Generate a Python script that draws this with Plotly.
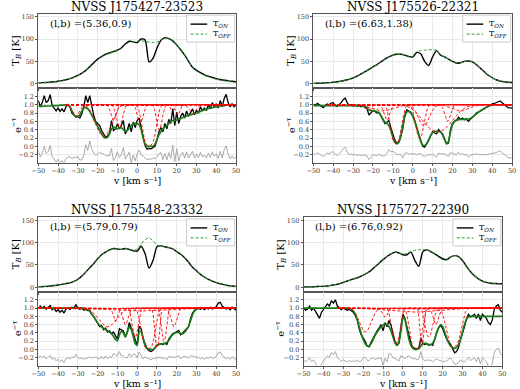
import numpy as np
import plotly.graph_objects as go

W, H = 520, 389

# ---------------- data ----------------
source_names = ["NVSS J175427-23523", "NVSS J175526-22321",
                "NVSS J175548-23332", "NVSS J175727-22390"]
lb_labels = ["(l,b) =(5.36,0.9)", "(l,b) =(6.63,1.38)",
             "(l,b) =(5.79,0.79)", "(l,b) =(6.76,0.92)"]
legend_names = ["T<sub><i>ON</i></sub>", "T<sub><i>OFF</i></sub>"]

v_em = list(range(-50, 51, 2))      # emission velocity grid [km/s]
v_abs = list(range(-50, 51, 1))     # absorption velocity grid [km/s]

ton1 = [2, 2.5, 3, 3.5, 4.5, 5.5, 7, 9, 11.5, 15, 19, 24, 30, 38, 47, 55, 61, 66, 69, 72,
        75, 80, 89, 95, 94, 92, 100, 98, 49, 57, 80, 97, 103, 101, 96, 87, 76, 64, 50, 37,
        30, 25, 20, 17, 14, 11.5, 9.5, 8, 6.5, 5.5, 4.5]
toff1 = [2, 2.5, 3, 3.5, 4.5, 5.5, 7, 9, 11.5, 15, 19, 24, 30, 36, 45, 53, 59, 65, 68, 71,
         74, 79, 88, 93, 94, 95, 96, 95, 93, 92, 93, 97, 102, 101, 96, 87, 76, 64, 50, 37,
         29, 23, 18.5, 15.5, 12.5, 10, 8, 6.5, 5, 4, 3]
ton2 = [1, 1.2, 1.5, 2, 2.5, 3.5, 4.5, 6, 8, 10, 13, 17, 22, 27, 32, 38, 43, 49, 55, 60,
        64, 66, 66, 64, 61, 60, 70, 67, 50, 41, 60, 74, 64, 60, 55, 50, 46, 47, 50, 51,
        49, 43, 35, 27, 19, 13.5, 9, 6, 4.5, 3.5, 3]
toff2 = [1, 1.2, 1.5, 2, 2.5, 3.5, 4.5, 6, 8, 10, 13, 17, 22, 27, 32, 38, 43, 49, 55, 60,
         64, 66, 66, 64, 61, 61, 72, 74, 75, 76, 76, 75, 64, 60, 55, 50, 46, 47, 50, 51,
         49, 43, 35, 27, 19, 13.5, 9, 6, 4.5, 3.5, 3]
ton3 = [1, 1.5, 2, 3, 4, 5, 6.5, 8.5, 10, 13, 18, 25, 34, 44, 53, 64, 73, 79, 84, 87,
        86, 85, 87, 85, 82, 81, 92, 75, 43, 60, 91, 93, 91, 89, 86, 80, 74, 66, 56, 45,
        37, 29, 23, 18, 14, 10.5, 8, 6, 4, 3, 2]
toff3 = [1, 1.5, 2, 3, 4, 5, 6.5, 8.5, 10, 13, 18, 25, 34, 44, 53, 64, 73, 79, 84, 87,
         86, 85, 87, 85, 83, 86, 97, 107, 111, 104, 95, 93, 91, 89, 86, 80, 74, 66, 56, 45,
         37, 29, 23, 18, 14, 10.5, 8, 6, 4, 3, 2]
ton4 = [0.5, 0.8, 1, 1.5, 2, 2, 3, 4.5, 6, 8, 11, 14, 17, 20, 23, 27, 32, 38, 46, 54,
        62, 69, 75, 79, 77, 73, 73, 79, 60, 47, 80, 84, 80, 75, 69, 64, 62, 68, 71, 69,
        60, 47, 35, 26, 19, 14, 11, 9, 8.5, 8, 8]
toff4 = [0.5, 0.8, 1, 1.5, 2, 2, 3, 4.5, 6, 8, 11, 14, 17, 20, 23, 27, 32, 38, 46, 54,
         62, 69, 75, 79, 77, 74, 76, 80, 83, 84, 85, 84, 80, 75, 67, 62, 61, 68, 71, 69,
         60, 47, 35, 26, 19, 14, 11, 9, 8.5, 8, 8]

abs1 = [1.10, 0.95, 1.05, 1.22, 1.05, 1.10, 1.24, 0.98, 0.92, 0.85,
        0.92, 0.84, 0.90, 0.83, 0.95, 1.00, 0.95, 0.80, 0.75, 0.70,
        0.72, 0.68, 0.78, 0.95, 1.22, 1.05, 1.22, 0.94, 0.75, 0.60,
        0.55, 0.50, 0.38, 0.30, 0.22, 0.25, 0.32, 0.62, 0.38, 0.42,
        0.54, 0.42, 0.50, 0.62, 0.30, 0.40, 0.55, 0.35, 0.58, 0.45,
        0.62, 0.68, 0.45, 0.22, 0.02, -0.07, -0.05, -0.06, -0.03, 0.00,
        0.15, 0.35, 0.45, 0.35, 0.55, 0.42, 0.65, 0.55, 0.90, 0.50,
        0.82, 0.55, 0.72, 0.80, 0.68, 0.85, 0.72, 0.82, 0.90, 0.76,
        0.86, 0.80, 0.95, 0.85, 0.92, 0.86, 1.00, 0.90, 1.05, 0.95,
        1.02, 0.92, 1.10, 0.95, 1.15, 1.25, 1.05, 0.95, 1.02, 0.95,
        1.00]
fit1 = [0.96, 0.96, 0.96, 0.97, 0.97, 0.97, 0.97, 0.98, 0.98, 0.98,
        0.98, 0.99, 0.99, 0.99, 1.00, 1.00, 0.95, 0.85, 0.76, 0.72,
        0.72, 0.76, 0.85, 0.92, 0.93, 0.90, 0.84, 0.75, 0.66, 0.57,
        0.48, 0.39, 0.30, 0.23, 0.20, 0.22, 0.30, 0.42, 0.47, 0.44,
        0.42, 0.44, 0.45, 0.40, 0.36, 0.38, 0.44, 0.50, 0.54, 0.55,
        0.55, 0.52, 0.40, 0.20, 0.05, 0.00, 0.00, 0.00, 0.00, 0.05,
        0.16, 0.28, 0.35, 0.42, 0.47, 0.50, 0.55, 0.59, 0.62, 0.62,
        0.63, 0.65, 0.67, 0.69, 0.71, 0.73, 0.75, 0.76, 0.77, 0.79,
        0.80, 0.82, 0.84, 0.86, 0.88, 0.89, 0.91, 0.92, 0.93, 0.94,
        0.95, 0.96, 0.97, 0.98, 0.98, 0.99, 0.99, 1.00, 1.00, 1.00,
        1.00]
abs2 = [1.02, 0.98, 1.03, 1.00, 0.97, 0.93, 0.98, 1.02, 1.00, 1.04,
        1.05, 0.98, 0.96, 1.00, 1.05, 1.12, 1.16, 1.05, 0.98, 1.00,
        0.97, 0.99, 0.96, 0.98, 0.95, 0.97, 0.94, 0.90, 0.75, 0.80,
        0.86, 0.84, 0.80, 0.82, 0.72, 0.62, 0.55, 0.58, 0.62, 0.45,
        0.30, 0.15, 0.07, 0.10, 0.25, 0.42, 0.75, 0.88, 0.85, 0.82,
        0.74, 0.62, 0.45, 0.30, 0.15, 0.00, -0.02, 0.05, 0.15, 0.25,
        0.35, 0.32, 0.30, 0.40, 0.36, 0.30, 0.18, 0.06, 0.08, 0.40,
        0.55, 0.60, 0.62, 0.70, 0.65, 0.68, 0.64, 0.66, 0.60, 0.66,
        0.70, 0.74, 0.80, 0.82, 0.85, 0.88, 0.90, 0.94, 0.97, 1.00,
        1.02, 1.03, 1.05, 1.08, 1.09, 1.05, 1.00, 0.97, 0.93, 0.92,
        0.92]
fit2 = [0.98, 0.98, 0.98, 0.98, 0.98, 0.98, 0.98, 0.98, 0.98, 0.98,
        0.98, 0.98, 0.98, 0.98, 0.98, 0.98, 0.98, 0.98, 0.98, 0.98,
        0.98, 0.98, 0.98, 0.98, 0.98, 0.97, 0.96, 0.93, 0.87, 0.86,
        0.86, 0.85, 0.83, 0.80, 0.74, 0.65, 0.58, 0.55, 0.50, 0.38,
        0.22, 0.10, 0.06, 0.10, 0.25, 0.50, 0.72, 0.83, 0.84, 0.80,
        0.72, 0.60, 0.45, 0.28, 0.12, 0.03, 0.02, 0.06, 0.15, 0.26,
        0.33, 0.36, 0.36, 0.36, 0.34, 0.28, 0.16, 0.07, 0.12, 0.35,
        0.52, 0.60, 0.63, 0.64, 0.65, 0.65, 0.65, 0.65, 0.66, 0.67,
        0.70, 0.74, 0.78, 0.82, 0.85, 0.88, 0.91, 0.94, 0.96, 0.98,
        0.99, 1.00, 1.00, 1.00, 1.00, 1.00, 1.00, 1.00, 1.00, 1.00,
        1.00]
abs3 = [0.98, 1.05, 1.00, 1.04, 0.97, 1.02, 1.06, 0.96, 1.00, 0.92,
        0.96, 0.90, 0.95, 0.88, 0.98, 1.00, 0.97, 1.02, 1.00, 1.08,
        1.00, 0.97, 1.00, 0.95, 0.97, 0.94, 0.95, 0.85, 0.80, 0.72,
        0.62, 0.55, 0.58, 0.48, 0.52, 0.42, 0.45, 0.38, 0.42, 0.32,
        0.25, 0.50, 0.48, 0.45, 0.30, 0.42, 0.65, 0.50, 0.40, 0.22,
        0.10, 0.56, 0.50, 0.25, 0.12, 0.02, -0.03, -0.05, -0.02, 0.03,
        0.10, 0.12, 0.14, 0.12, 0.15, 0.12, 0.25, 0.32, 0.38, 0.40,
        0.44, 0.46, 0.35, 0.40, 0.45, 0.50, 0.55, 0.75, 0.88, 0.95,
        0.98, 1.00, 0.97, 1.00, 0.96, 1.00, 0.98, 1.02, 0.98, 1.00,
        1.03, 1.12, 1.14, 1.05, 1.02, 0.98, 1.00, 0.96, 1.02, 0.98,
        0.95]
fit3 = [1.00, 1.00, 1.00, 1.00, 1.00, 1.00, 1.00, 1.00, 1.00, 1.00,
        1.00, 1.00, 1.00, 1.00, 1.00, 1.00, 1.00, 1.00, 1.00, 1.00,
        1.00, 1.00, 1.00, 0.99, 0.98, 0.96, 0.92, 0.86, 0.79, 0.71,
        0.64, 0.58, 0.54, 0.51, 0.48, 0.45, 0.42, 0.38, 0.32, 0.24,
        0.21, 0.35, 0.44, 0.40, 0.30, 0.42, 0.55, 0.48, 0.32, 0.14,
        0.10, 0.42, 0.44, 0.28, 0.10, 0.02, 0.00, 0.00, 0.00, 0.04,
        0.10, 0.12, 0.13, 0.14, 0.15, 0.17, 0.22, 0.30, 0.36, 0.39,
        0.41, 0.41, 0.38, 0.38, 0.42, 0.48, 0.56, 0.70, 0.84, 0.93,
        0.97, 0.99, 1.00, 1.00, 1.00, 1.00, 1.00, 1.00, 1.00, 1.00,
        1.00, 1.00, 1.00, 1.00, 1.00, 1.00, 1.00, 1.00, 1.00, 1.00,
        1.00]
abs4 = [1.00, 0.95, 0.98, 1.05, 0.95, 1.00, 0.92, 0.85, 0.75, 0.90,
        0.97, 1.02, 1.10, 1.05, 1.18, 1.12, 1.20, 1.05, 1.00, 0.96,
        1.00, 0.98, 0.95, 0.97, 0.93, 0.90, 0.82, 0.72, 0.50, 0.35,
        0.28, 0.20, 0.08, 0.06, 0.18, 0.28, 0.35, 0.45, 0.52, 0.60,
        0.45, 0.65, 0.55, 0.70, 0.58, 0.35, 0.20, 0.10, 0.15, 0.55,
        0.85, 0.75, 0.55, 0.35, 0.15, 0.05, 0.03, 0.00, 0.04, 0.28,
        0.15, 0.12, 0.14, 0.10, 0.12, 0.10, 0.25, 0.42, 0.52, 0.58,
        0.50, 0.38, 0.25, 0.18, 0.12, 0.02, -0.08, -0.05, 0.05, 0.25,
        0.38, 0.55, 0.75, 0.85, 0.78, 0.82, 0.85, 0.75, 0.86, 0.70,
        0.85, 0.80, 0.75, 0.65, 0.60, 0.72, 0.98, 1.05, 1.08, 0.95,
        0.90]
fit4 = [1.00, 1.00, 1.00, 1.00, 1.00, 1.00, 1.00, 1.00, 1.00, 1.00,
        1.00, 1.00, 1.00, 1.00, 1.00, 1.00, 1.00, 1.00, 1.00, 1.00,
        1.00, 1.00, 1.00, 0.99, 0.97, 0.93, 0.86, 0.72, 0.55, 0.38,
        0.24, 0.14, 0.09, 0.08, 0.14, 0.24, 0.34, 0.42, 0.49, 0.55,
        0.59, 0.61, 0.60, 0.55, 0.45, 0.30, 0.16, 0.10, 0.18, 0.45,
        0.78, 0.72, 0.48, 0.25, 0.10, 0.03, 0.00, 0.00, 0.02, 0.08,
        0.13, 0.15, 0.14, 0.12, 0.12, 0.15, 0.25, 0.40, 0.53, 0.60,
        0.55, 0.42, 0.28, 0.16, 0.08, 0.04, 0.03, 0.05, 0.12, 0.25,
        0.42, 0.60, 0.73, 0.79, 0.80, 0.80, 0.80, 0.80, 0.80, 0.80,
        0.80, 0.80, 0.80, 0.80, 0.80, 0.80, 0.80, 0.80, 0.80, 0.80,
        0.80]

# Gaussian absorption components: centre [km/s], minimum of e^-tau, sigma [km/s]
comp1_center = [-31, -17, -12, -9, 1.5, 6, 11.2, 17.8, 20.5, 28]
comp1_min = [0.72, 0.25, 0.62, 0.45, 0.55, 0.02, 0.40, 0.85, 0.75, 0.78]
comp1_sigma = [1.5, 3.2, 1.2, 1.3, 1.2, 2.0, 1.2, 0.8, 1.0, 1.5]
comp2_center = [-22, -15, -13, -8.5, 3.5, 5.5, 12.5, 17.5, 24]
comp2_min = [0.85, 0.85, 0.63, 0.07, 0.20, 0.50, 0.35, 0.60, 0.85]
comp2_sigma = [1.0, 5.0, 1.3, 1.8, 1.6, 2.5, 6.0, 1.3, 4.0]
comp3_center = [-15, -11, -6, -1, 0, 5.5, 10, 13.5, 18.5]
comp3_min = [0.55, 0.68, 0.60, 0.30, 0.93, 0.02, 0.06, 0.20, 0.55]
comp3_sigma = [4.0, 1.0, 1.2, 1.2, 15.0, 2.0, 0.8, 1.0, 1.3]
comp4_center = [-19, -9, -3.5, 5, 6.5, 9.5, 13, 16.5, 25.5]
comp4_min = [0.42, 0.78, 0.15, 0.90, 0.02, 0.10, 0.30, 0.60, 0.06]
comp4_sigma = [2.5, 1.2, 1.5, 12.0, 1.8, 0.7, 1.5, 1.2, 2.3]
comp_vstart = [-36, -43, -50, -33]
resid_offset = [-0.25, -0.20, -0.20, -0.25]

panels = [
    (ton1, toff1, abs1, fit1, comp1_center, comp1_min, comp1_sigma),
    (ton2, toff2, abs2, fit2, comp2_center, comp2_min, comp2_sigma),
    (ton3, toff3, abs3, fit3, comp3_center, comp3_min, comp3_sigma),
    (ton4, toff4, abs4, fit4, comp4_center, comp4_min, comp4_sigma),
]

# ---------------- layout geometry (pixels) ----------------
# x0, x1, top, middle, bottom
geom = [(32, 234, 12.7, 87.3, 162),
        (313, 516, 12.7, 87.3, 162),
        (32, 234, 217, 291.3, 365.5),
        (303, 506, 217, 291.3, 365.5)]
ylab_x = [(10, 10), (291, 290), (10, 10), (280, 278)]
title_y = [6, 6, 209.5, 209.5]
xlab_y = [180, 180, 383.3, 383.3]

SERIF = "DejaVu Serif"


def px(x):
    return x / W


def py(y):
    return 1 - y / H


fig = go.Figure()
annotations, shapes = [], []
layout = dict(width=W, height=H, margin=dict(l=0, r=0, t=0, b=0),
              paper_bgcolor="white", plot_bgcolor="white", showlegend=False)

axis_common = dict(showline=True, linecolor="#555", linewidth=1, mirror=True,
                   ticks="outside", ticklen=2, tickwidth=0.8, tickcolor="#555",
                   tickfont=dict(family=SERIF, size=6.5, color="#333"),
                   showgrid=True, gridcolor="#e9e9e9", gridwidth=0.8, zeroline=False)

for p, (ton, toff, absd, fit, cc, cm, cs) in enumerate(panels):
    iu, il = 2 * p + 1, 2 * p + 2
    xu = "x" if iu == 1 else f"x{iu}"
    yu = "y" if iu == 1 else f"y{iu}"
    xl, yl = f"x{il}", f"y{il}"

    # upper: emission
    fig.add_trace(go.Scatter(x=v_em, y=ton, xaxis=xu, yaxis=yu, mode="lines",
                             line=dict(color="black", width=1.4, shape="spline", smoothing=0.7),
                             name=legend_names[0]))
    fig.add_trace(go.Scatter(x=v_em, y=toff, xaxis=xu, yaxis=yu, mode="lines",
                             line=dict(color="#2ca02c", width=1, dash="3px,2px",
                                       shape="spline", smoothing=0.7),
                             name=legend_names[1]))

    # lower: absorption data, fit, components, residual
    fig.add_trace(go.Scatter(x=v_abs, y=absd, xaxis=xl, yaxis=yl, mode="lines",
                             line=dict(color="black", width=1.3), name="data"))
    fig.add_trace(go.Scatter(x=v_abs, y=fit, xaxis=xl, yaxis=yl, mode="lines",
                             line=dict(color="#1b7a1b", width=1.7, shape="spline", smoothing=0.5),
                             name="fit"))
    vf = np.arange(comp_vstart[p], 50.001, 0.2)
    for c, m, s in zip(cc, cm, cs):
        tau0 = -np.log(m)
        yc = np.exp(-tau0 * np.exp(-0.5 * ((vf - c) / s) ** 2))
        fig.add_trace(go.Scatter(x=vf, y=yc, xaxis=xl, yaxis=yl, mode="lines",
                                 line=dict(color="red", width=0.9, dash="3px,2px"),
                                 name="component"))
    resid = [a - f + resid_offset[p] for a, f in zip(absd, fit)]
    fig.add_trace(go.Scatter(x=v_abs, y=resid, xaxis=xl, yaxis=yl, mode="lines",
                             line=dict(color="#a0a0a0", width=0.9), name="residual"))

    x0, x1, top, mid, bot = geom[p]
    xdom = [px(x0), px(x1)]
    kxu = "xaxis" if iu == 1 else f"xaxis{iu}"
    kyu = "yaxis" if iu == 1 else f"yaxis{iu}"
    layout[kxu] = dict(axis_common, domain=xdom, range=[-50, 50], anchor=yu,
                       tickvals=list(range(-50, 51, 10)), showticklabels=False)
    layout[kyu] = dict(axis_common, domain=[py(mid), py(top)], range=[-9.6, 156.7],
                       anchor=xu, tickvals=[0, 50, 100, 150])
    layout[f"xaxis{il}"] = dict(axis_common, domain=xdom, range=[-50, 50], anchor=yl,
                                tickvals=list(range(-50, 51, 10)))
    layout[f"yaxis{il}"] = dict(axis_common, domain=[py(bot), py(mid)], range=[-0.39, 1.40],
                                anchor=xl, tickvals=[-0.2, 0, 0.2, 0.4, 0.6, 0.8, 1.0, 1.2],
                                tickformat=".1f")

    cx = (x0 + x1) / 2
    annotations.append(dict(text=source_names[p], x=px(cx), y=py(title_y[p]),
                            xref="paper", yref="paper", xanchor="center", yanchor="middle",
                            showarrow=False, font=dict(family=SERIF, size=12, color="black")))
    annotations.append(dict(text=lb_labels[p], x=px(x0 + 10), y=py(top + 9.5),
                            xref="paper", yref="paper", xanchor="left", yanchor="middle",
                            showarrow=False, font=dict(family=SERIF, size=10, color="black")))
    annotations.append(dict(text="T<sub><i>B</i></sub> [K]", x=px(ylab_x[p][0]),
                            y=py((top + mid) / 2), xref="paper", yref="paper",
                            xanchor="center", yanchor="middle", textangle=-90, showarrow=False,
                            font=dict(family=SERIF, size=10, color="black")))
    annotations.append(dict(text="e<sup>\u2212\u03c4</sup>", x=px(ylab_x[p][1]),
                            y=py((mid + bot) / 2), xref="paper", yref="paper",
                            xanchor="center", yanchor="middle", textangle=-90, showarrow=False,
                            font=dict(family=SERIF, size=10, color="black")))
    annotations.append(dict(text="v [km s\u207b\u00b9]", x=px(cx), y=py(xlab_y[p]),
                            xref="paper", yref="paper", xanchor="center", yanchor="middle",
                            borderpad=0, showarrow=False,
                            font=dict(family=SERIF, size=9.5, color="black")))

    # compact legend box (upper right of the emission panel)
    r = x1 - 1.5
    l = r - 49
    t = top + 1.5
    b = t + 27
    shapes.append(dict(type="rect", xref="paper", yref="paper", x0=px(l), x1=px(r),
                       y0=py(b), y1=py(t), line=dict(color="#cccccc", width=1),
                       fillcolor="rgba(255,255,255,0.9)", layer="above"))
    shapes.append(dict(type="line", xref="paper", yref="paper", x0=px(l + 4), x1=px(l + 21),
                       y0=py(t + 9), y1=py(t + 9), line=dict(color="black", width=1.4),
                       layer="above"))
    shapes.append(dict(type="line", xref="paper", yref="paper", x0=px(l + 4), x1=px(l + 21),
                       y0=py(t + 19), y1=py(t + 19),
                       line=dict(color="#2ca02c", width=1, dash="3px,2px"), layer="above"))
    for k, yy in enumerate([t + 9, t + 19]):
        annotations.append(dict(text=legend_names[k], x=px(l + 25), y=py(yy),
                                xref="paper", yref="paper", xanchor="left", yanchor="middle",
                                showarrow=False, font=dict(family=SERIF, size=8, color="black")))

layout["annotations"] = annotations
layout["shapes"] = shapes
fig.update_layout(**layout)
fig.write_html("out.html", config={"displayModeBar": False},
               post_script="document.body.style.margin='0';document.body.style.overflow='hidden';")
